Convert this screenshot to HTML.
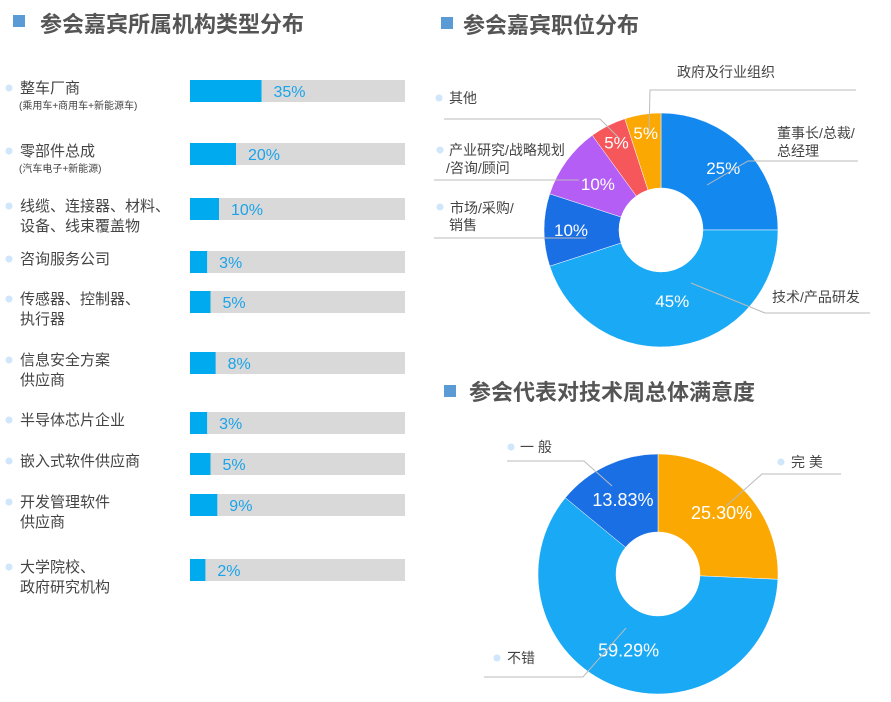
<!DOCTYPE html>
<html><head><meta charset="utf-8"><style>
body{margin:0;background:#fff;}
svg{display:block;font-family:"Liberation Sans","Noto Sans CJK SC",sans-serif;}
</style></head><body>
<svg id="s" width="891" height="702" viewBox="0 0 891 702">
<g><rect x="13" y="15" width="12" height="12" fill="#5b9bd5"/><text x="40" y="32" font-size="22" font-weight="bold" fill="#555">参会嘉宾所属机构类型分布</text></g>
<g><rect x="441" y="17" width="12" height="12" fill="#5b9bd5"/><text x="463" y="33" font-size="22" font-weight="bold" fill="#555">参会嘉宾职位分布</text></g>
<g><rect x="444" y="385" width="12" height="12" fill="#5b9bd5"/><text x="469" y="400" font-size="22" font-weight="bold" fill="#555">参会代表对技术周总体满意度</text></g>
<g id="bars"></g>
<g id="d1"></g>
<g id="d2"></g>
<g fill="none" stroke="#bbb" stroke-width="1">
<polyline points="649,134 650,90 856,90"/><polyline points="620,139 600,119 444,119"/><polyline points="579,180 434,180"/>
<polyline points="586,238 434,238"/><polyline points="707,185 748,161 858,161"/><polyline points="691,283 765,313 870,313"/>
</g>
<g font-size="14" fill="#444">
<text x="677" y="77">政府及行业组织</text>
<circle cx="439" cy="98" r="3.5" fill="#cfe6fb"/><text x="449" y="103">其他</text>
<circle cx="440" cy="150" r="3.5" fill="#cfe6fb"/><text x="449" y="155">产业研究/战略规划</text><text x="446" y="173">/咨询/顾问</text>
<circle cx="440" cy="207" r="3.5" fill="#cfe6fb"/><text x="450" y="213">市场/采购/</text><text x="449" y="230">销售</text>
<text x="777" y="138">董事长/总裁/</text><text x="777" y="156">总经理</text>
<text x="772" y="302">技术/产品研发</text>
</g>
<g fill="none" stroke="#bbb" stroke-width="1">
<polyline points="612,486 584,461 507,461"/><polyline points="726,506 762,474 841,474"/><polyline points="626,628 583,677 484,677"/>
</g>
<g font-size="14" fill="#444">
<circle cx="511" cy="447" r="3.5" fill="#cfe6fb"/><text x="520" y="452">一 般</text>
<circle cx="781" cy="462" r="3.5" fill="#cfe6fb"/><text x="791" y="467">完 美</text>
<circle cx="497" cy="658" r="3.5" fill="#cfe6fb"/><text x="507" y="663">不错</text>
</g>
</svg>
<script>
var orgLabels=[["整车厂商","(乘用车+商用车+新能源车)"],["零部件总成","(汽车电子+新能源)"],["线缆、连接器、材料、"," 设备、线束覆盖物"],["咨询服务公司"],["传感器、控制器、","执行器"],["信息安全方案","供应商"],["半导体芯片企业"],["嵌入式软件供应商"],["开发管理软件","供应商"],["大学院校、"," 政府研究机构"]];
var orgValues=[35,20,10,3,5,8,3,5,9,2];
var posLabels=["董事长/总裁/总经理","技术/产品研发","市场/采购/销售","产业研究/战略规划/咨询/顾问","其他","政府及行业组织"];
var posValues=[25,45,10,10,5,5];
var satLabels=["完美","不错","一般"];
var satValues=[25.30,59.29,13.83];
var NS="http://www.w3.org/2000/svg";
function mk(t,a,p){var e=document.createElementNS(NS,t);for(var k in a)e.setAttribute(k,a[k]);p.appendChild(e);return e;}
var rowY=[91,154,209,262,302,363,423,464,505,570];
var bars=document.getElementById('bars');
function barW(v){return 12+v*1.7;}
orgValues.forEach(function(v,i){
 var y=rowY[i];
 var g=mk('g',{},bars);
 
 
 var c=mk('circle',{cx:9,cy:y-3,r:3.5,fill:'#cfe6fb'},g);
 var lb=orgLabels[i];
 var t=mk('text',{x:20,y:y+2,'font-size':15,fill:'#444'},g);t.textContent=lb[0];
 if(lb[1]){var sm=lb[1].charAt(0)=='(';var t2=mk('text',{x:sm?19:20,y:sm?y+18:y+22,'font-size':sm?10:15,fill:'#444'},g);t2.textContent=lb[1];}
 var tr=mk('rect',{x:190,y:y-11,width:215,height:22,fill:'#d9d9d9'},g);
 
 
 var w=barW(v);
 var f=mk('rect',{x:190,y:y-11,width:w,height:22,fill:'#00aaee'},g);
 
 
 var pt=mk('text',{x:190+w+12,y:y+6,'font-size':16,fill:'#1aa3ea'},g);pt.textContent=v+'%';
});
function donut(id,cx,cy,R,r,vals,cols,fmt,lr,fs){
 var p=document.getElementById(id);var tot=vals.reduce(function(a,b){return a+b},0);var a0=-Math.PI/2;
 vals.forEach(function(v,i){
  var a1=a0+v/tot*2*Math.PI;var lg=(a1-a0)>Math.PI?1:0;
  function pt(rr,a){return (cx+rr*Math.cos(a)).toFixed(2)+','+(cy+rr*Math.sin(a)).toFixed(2);}
  var d='M'+pt(R,a0)+'A'+R+','+R+' 0 '+lg+' 1 '+pt(R,a1)+'L'+pt(r,a1)+'A'+r+','+r+' 0 '+lg+' 0 '+pt(r,a0)+'Z';
  var s=mk('path',{d:d,fill:cols[i],stroke:'#fff','stroke-width':0.5},p);
  
  
  var am=(a0+a1)/2;var lrr=lr[i];
  var t=mk('text',{x:cx+lrr*Math.cos(am),y:cy+lrr*Math.sin(am)+6,'font-size':fs,fill:'#fff','text-anchor':'middle'},p);
  t.textContent=fmt(v);
  
  
  a0=a1;
 });
}
donut('d1',661,230,117,42,posValues,['#1389f0','#1aa9f5','#1b6fe5','#b45ef5','#f5575a','#fba803'],function(v){return v+'%'},[88,72,90,78,98,98],17);
donut('d2',658,574,120,42,satValues,['#fba803','#1aa9f5','#1b6fe5'],function(v){return v.toFixed(2)+'%'},[88,82,82],18);
</script>
</body></html>
